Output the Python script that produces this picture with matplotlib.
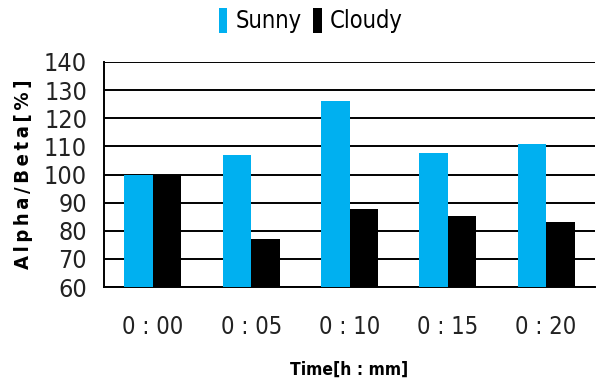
import numpy as np
import matplotlib

matplotlib.use("Agg")
import matplotlib.pyplot as plt
from matplotlib import font_manager

times = ["0 : 00", "0 : 05", "0 : 10", "0 : 15", "0 : 20"]
sunny = [100.0, 107.1, 126.2, 107.8, 110.9]
cloudy = [100.0, 77.1, 87.9, 85.4, 83.2]
y_ticks = [60, 70, 80, 90, 100, 110, 120, 130, 140]

# pick a narrow face if one is there
names = {f.name for f in font_manager.fontManager.ttflist}
narrow = "Liberation Sans Narrow" if "Liberation Sans Narrow" in names else "DejaVu Sans"
plt.rcParams["font.family"] = [narrow, "DejaVu Sans"]
plt.rcParams["font.stretch"] = "condensed"

fig = plt.figure(figsize=(6.0, 3.87), dpi=100)
ax = fig.add_axes([0.173, 0.258, 0.819, 0.582])

x = np.arange(len(times))
w = 0.29
ax.bar(x - w / 2, sunny, w, color="#00b0f0", label="Sunny", zorder=3)
ax.bar(x + w / 2, cloudy, w, color="black", label="Cloudy", zorder=3)

ax.set_ylim(60, 140)
ax.set_xlim(-0.5, len(times) - 0.5)
ax.set_yticks(y_ticks)
ax.set_xticks(x)
ax.set_xticklabels(times)
ax.yaxis.grid(True, color="black", linewidth=1.4, zorder=0)
ax.set_axisbelow(True)
for side in ["top", "right"]:
    ax.spines[side].set_visible(False)
ax.spines["left"].set_linewidth(1.4)
ax.spines["bottom"].set_linewidth(1.4)
ax.tick_params(axis="both", length=0, labelsize=17, colors="#222222")
ax.tick_params(axis="x", pad=20)
ax.tick_params(axis="y", labelsize=18, pad=12)

ylab = "\u2009".join("Alpha/Beta[%]")
ax.set_ylabel(ylab, fontsize=14.5, fontweight="bold", labelpad=8)
ax.set_xlabel("Time[h : mm]", fontsize=12.5, fontweight="bold", labelpad=16)

fig.legend(loc="upper center", bbox_to_anchor=(0.518, 1.035), ncol=2, frameon=False,
           fontsize=17, handlelength=0.35, handleheight=1.25, handletextpad=0.35,
           columnspacing=0.5)

fig.savefig("out.png", dpi=100, facecolor="white")
